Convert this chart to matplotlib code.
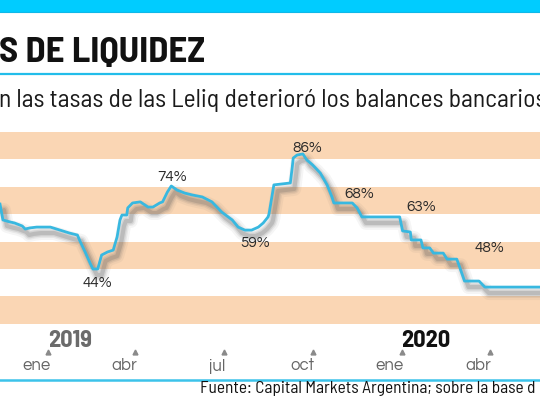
import pandas as pd
import matplotlib
matplotlib.use("Agg")
import matplotlib.pyplot as plt
from matplotlib.transforms import blended_transform_factory, offset_copy

# serie Leliq (fecha, tasa %)
fechas = ["2018-11-12", "2018-11-15", "2018-11-22", "2018-11-27", "2018-12-05", "2018-12-08",
          "2018-12-13", "2018-12-20", "2019-01-03", "2019-01-13", "2019-01-23", "2019-01-31",
          "2019-02-03", "2019-02-08", "2019-02-13", "2019-02-16", "2019-02-21", "2019-02-25",
          "2019-03-03", "2019-03-09", "2019-03-13", "2019-03-16", "2019-03-18", "2019-03-23",
          "2019-03-24", "2019-03-29", "2019-04-06", "2019-04-14", "2019-04-19", "2019-04-26",
          "2019-04-29", "2019-05-04", "2019-05-08", "2019-05-14", "2019-05-22", "2019-05-30",
          "2019-06-09", "2019-06-19", "2019-06-29", "2019-07-10", "2019-07-16", "2019-07-23",
          "2019-07-30", "2019-08-06", "2019-08-11", "2019-08-16", "2019-08-17", "2019-08-22",
          "2019-09-08", "2019-09-10", "2019-09-11", "2019-09-15", "2019-09-21", "2019-09-25",
          "2019-10-01", "2019-10-09", "2019-10-16", "2019-10-21", "2019-10-23", "2019-11-11",
          "2019-11-16", "2019-11-21", "2019-12-30", "2020-01-02", "2020-01-10", "2020-01-11",
          "2020-01-21", "2020-01-23", "2020-01-30", "2020-02-03", "2020-02-13", "2020-02-17",
          "2020-02-27", "2020-03-01", "2020-03-06", "2020-03-21", "2020-03-27", "2020-05-23"]
tasas = [67.7, 61.9, 61.2, 60.8, 59.7, 58.6,
         59.0, 59.3, 59.3, 58.2, 57.1, 56.4,
         53.9, 50.2, 46.2, 44.0, 44.0, 49.1,
         50.2, 50.9, 55.7, 61.9, 63.7, 63.7,
         66.3, 68.1, 68.5, 66.6, 66.6, 68.1,
         68.5, 72.1, 74.3, 72.8, 71.7, 71.0,
         70.3, 68.5, 64.8, 61.9, 59.3, 58.2,
         58.2, 59.3, 60.8, 63.0, 64.1, 74.7,
         75.4, 81.2, 84.5, 85.6, 86.0, 83.8,
         82.0, 79.0, 74.7, 70.3, 68.1, 68.1,
         66.3, 63.0, 63.0, 57.9, 57.5, 54.6,
         54.6, 51.7, 51.7, 49.8, 49.8, 47.6,
         47.6, 44.7, 39.6, 39.6, 37.4, 37.4]

etiquetas = ["44%", "74%", "59%", "86%", "68%", "63%", "48%"]
etiq_fechas = ["2019-02-21", "2019-05-09", "2019-08-03", "2019-09-26", "2019-11-18", "2020-01-21", "2020-04-01"]
etiq_y = [38.9, 77.5, 53.4, 88.1, 71.2, 66.8, 51.8]

meses = ["ene", "abr", "jul", "oct", "ene", "abr"]
meses_fechas = ["2019-01-01", "2019-04-01", "2019-07-01", "2019-10-01", "2020-01-01", "2020-04-01"]
franjas = [(24, 34), (44, 54), (64, 74), (84, 94)]

CYAN = "#00CCFF"
LINEA = "#38B8E0"
NARANJA = "#FAD6B4"
TEXTO = ["Barlow Semi Condensed", "Roboto Condensed", "Saira SemiCondensed", "DejaVu Sans"]
GEOM = ["Questrial", "Montserrat", "DejaVu Sans"]

fig = plt.figure(figsize=(5.4, 4.05), dpi=100)
bg = fig.add_axes([0, 0, 1, 1])
bg.set_xlim(0, 540); bg.set_ylim(405, 0); bg.axis("off")

# cabecera
bg.axhspan(0, 12, color=CYAN, lw=0)
bg.axhline(12, color="#10B8E8", lw=0.8)
bg.text(-1, 62, "S DE LIQUIDEZ", fontsize=26.5, fontweight="bold", family=TEXTO,
        va="baseline", ha="left", color="#111111")
bg.axhline(73.5, color="#22BDEA", lw=1.6)
bg.text(-1, 107, "n las tasas de las Leliq deterioró los balances bancarios", fontsize=18.4,
        family=TEXTO, va="baseline", ha="left", color="#1a1a1a")

ax = fig.add_axes([0, (405 - 340) / 405, 1, 220 / 405])
ax.patch.set_alpha(0)
x = pd.to_datetime(fechas)
ax.set_xlim(pd.Timestamp("2018-11-12"), pd.Timestamp("2020-05-23"))
ax.set_ylim(18.09, 98.38)
for lo, hi in franjas:
    ax.axhspan(lo, hi, color=NARANJA, lw=0, zorder=0)

# sombra difusa
for lw, a in [(10, 0.06), (7, 0.09), (5, 0.13), (3, 0.2)]:
    tr = offset_copy(ax.transData, fig=fig, x=4, y=-6, units="dots")
    ax.plot(x, tasas, color="#5a5a5a", lw=lw, alpha=a, transform=tr, solid_joinstyle="round",
            solid_capstyle="round", zorder=1)
ax.plot(x, tasas, color=LINEA, lw=2.0, solid_joinstyle="round", zorder=3)

for t, f, yv in zip(etiquetas, etiq_fechas, etiq_y):
    ax.text(pd.Timestamp(f), yv, t, fontsize=11, family=GEOM, ha="center", va="center",
            color="#2a2a2a", zorder=4)
ax.axis("off")

# eje de meses
trm = blended_transform_factory(ax.transData, bg.transData)
mx = pd.to_datetime(meses_fechas)
ax.plot(mx, [352] * len(mx), "^", ms=3.5, color="#8a8a8a", transform=trm, clip_on=False)
for m, f in zip(meses, mx):
    ax.text(f + pd.Timedelta(days=2), 366, m, fontsize=12, family=GEOM, ha="right", va="center",
            color="#666666", transform=trm, clip_on=False)
ax.text(mx[0], 347, "2019", fontsize=17.5, fontweight="bold", family=TEXTO, ha="left",
        va="baseline", color="#6b6b6b", transform=trm, clip_on=False)
ax.text(mx[4], 347, "2020", fontsize=17.5, fontweight="bold", family=TEXTO, ha="left",
        va="baseline", color="#111111", transform=trm, clip_on=False)

bg.axhline(380, color="#3CC3EA", lw=1.8)
bg.text(200, 393.5, "Fuente: Capital Markets Argentina; sobre la base d", fontsize=12.5,
        family=TEXTO, va="baseline", ha="left", color="#111111")

fig.savefig("out.png", dpi=100)
